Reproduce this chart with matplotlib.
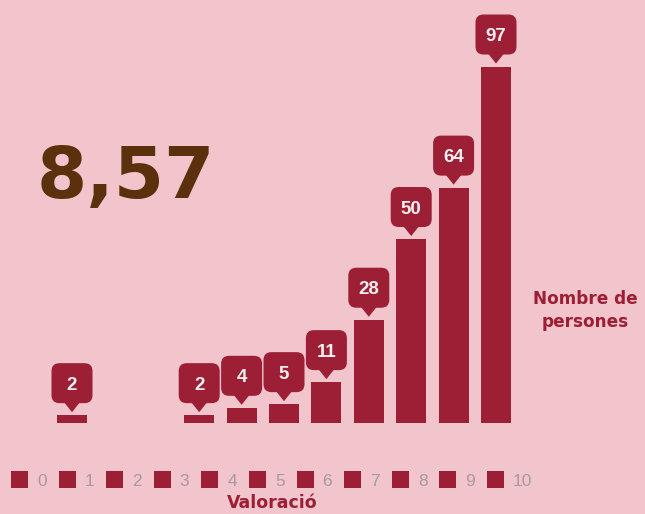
import matplotlib
matplotlib.use('Agg')
import matplotlib.pyplot as plt
import matplotlib.transforms as mtransforms
from matplotlib.patches import FancyBboxPatch, Polygon, Rectangle

# valoració (0-10) and nombre de persones
scores = [0, 1, 2, 3, 4, 5, 6, 7, 8, 9, 10]
counts = [2, 0, 0, 2, 4, 5, 11, 28, 50, 64, 97]
average = '8,57'
y_title = ['Nombre de', 'persones']
x_title = 'Valoració'

bg = '#f2c4cb'
bar_color = '#9c1f36'
W, H = 645, 514

fig = plt.figure(figsize=(W / 100, H / 100), dpi=100, facecolor=bg)
ax = fig.add_axes([0, 0, 1, 1])
ax.set_facecolor(bg)
ax.axis('off')

# axes spans the whole figure: one category = 42.4 px, one person = 3.67 px
x0, step = 72, 42.4
base, unit = H - 422.5, 3.67
ax.set_xlim(-x0 / step, (W - x0) / step)
ax.set_ylim(-base / unit, (H - base) / unit)

ax.bar(scores, counts, width=30 / step, color=bar_color, linewidth=0)

# value callouts, drawn in pixel offsets from the bar top
for s, c in zip(scores, counts):
    if c == 0:
        continue
    tr = mtransforms.ScaledTranslation(s, c, ax.transData)
    box = FancyBboxPatch((-20.5, 12), 41, 40, boxstyle='round,pad=0,rounding_size=8',
                         transform=tr, fc=bar_color, ec='none')
    tip = Polygon([(-8, 13), (8, 13), (0, 3)], closed=True, transform=tr,
                  fc=bar_color, ec='none')
    ax.add_artist(box)
    ax.add_artist(tip)
    ax.text(0, 25.5, str(c), transform=tr, ha='center', va='baseline', color='#f7eef0',
            fontsize=13.5, fontweight='bold', family='Liberation Sans')

# pixel coordinates from the top-left corner
pix = mtransforms.Affine2D().scale(1, -1).translate(0, H)

fig.text(126, 198, average, transform=pix, ha='center', va='baseline',
         color='#5b300c', fontsize=52, fontweight='bold', family='DejaVu Sans')

fig.text(585, 304, y_title[0], transform=pix, ha='center', va='baseline',
         color=bar_color, fontsize=12.2, fontweight='bold', family='DejaVu Sans')
fig.text(585, 327, y_title[1], transform=pix, ha='center', va='baseline',
         color=bar_color, fontsize=12.2, fontweight='bold', family='DejaVu Sans')

# legend row
for i, s in enumerate(scores):
    lx = 11 + 47.6 * i
    fig.add_artist(Rectangle((lx, 471), 17, 17, transform=pix, fc=bar_color, ec='none'))
    fig.text(lx + 26, 486, str(s), transform=pix, ha='left', va='baseline',
             color='#a8999f', fontsize=12.5, family='Liberation Sans')

fig.text(272, 508, x_title, transform=pix, ha='center', va='baseline',
         color=bar_color, fontsize=12.5, fontweight='bold', family='DejaVu Sans')

fig.savefig('out.png', dpi=100, facecolor=bg)
